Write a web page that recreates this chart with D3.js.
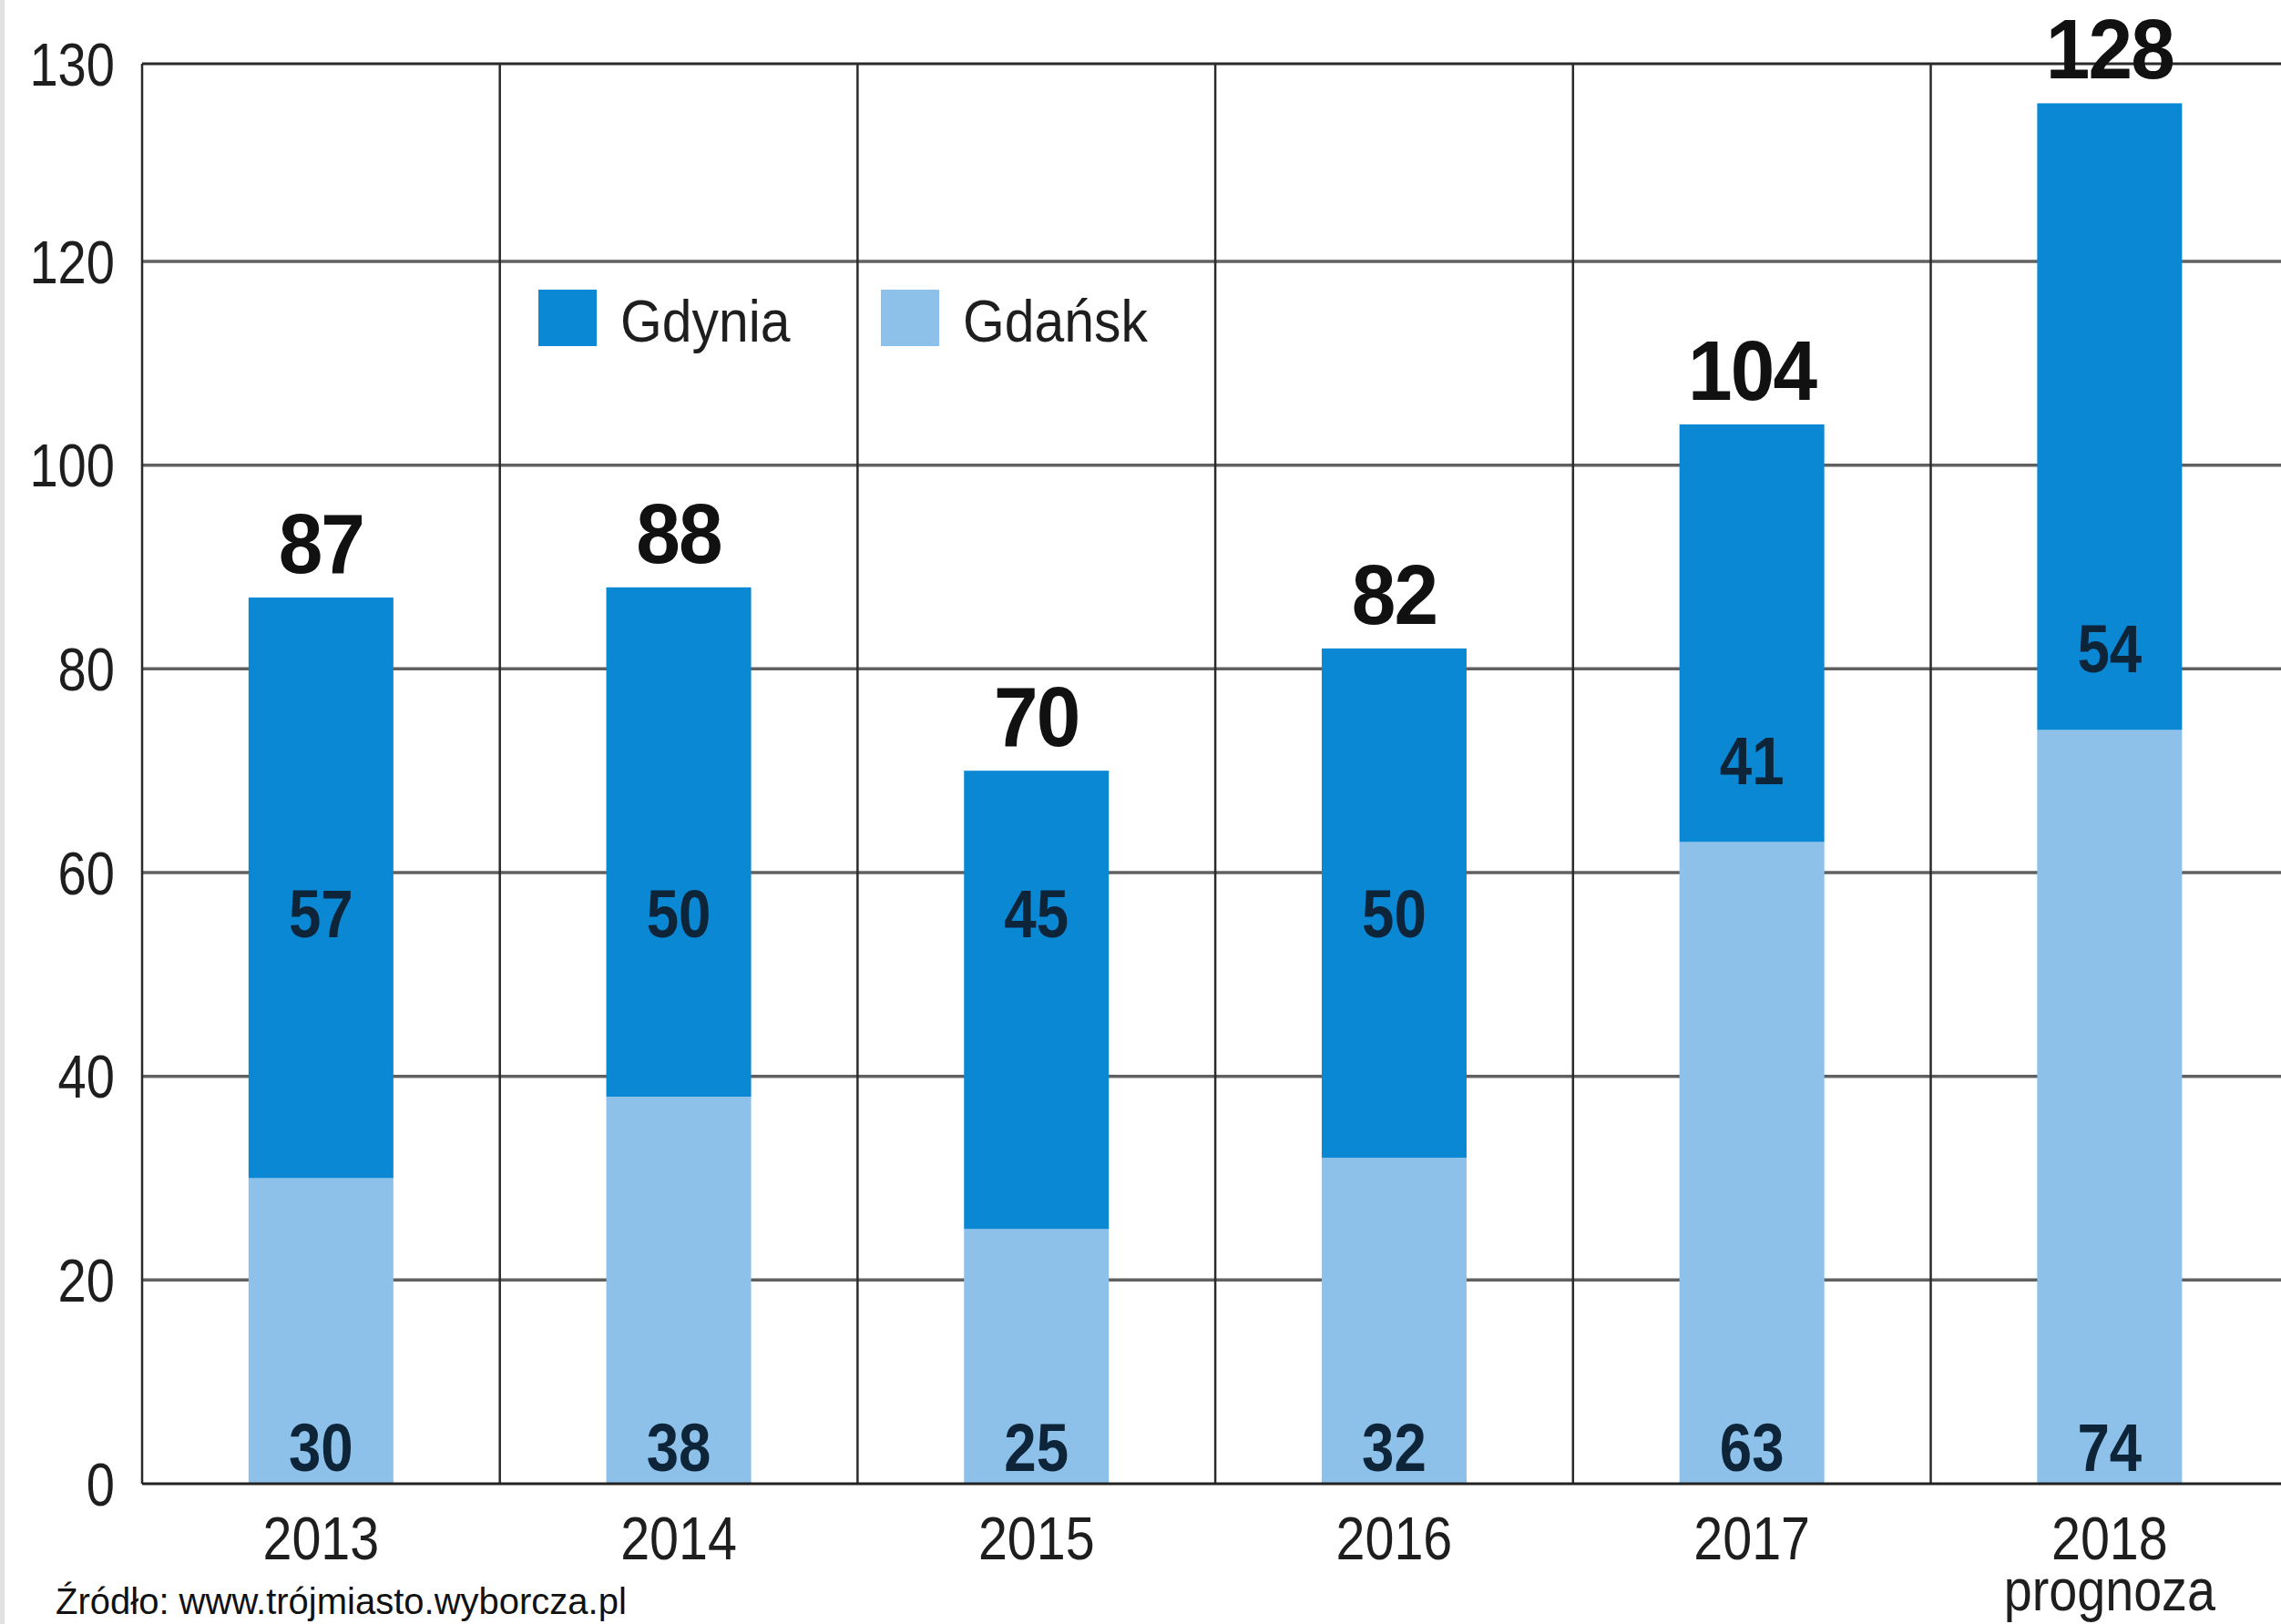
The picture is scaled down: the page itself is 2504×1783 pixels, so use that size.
<!DOCTYPE html>
<html>
<head>
<meta charset="utf-8">
<script src="https://cdnjs.cloudflare.com/ajax/libs/d3/7.8.5/d3.min.js"></script>
<style>
  body { margin:0; background:#fff; }
  svg { display:block; }
</style>
</head>
<body>
<script>
var years = ["2013","2014","2015","2016","2017","2018"];
var yearNotes = ["","","","","","prognoza"];
var gdynia = [57,50,45,50,41,54];
var gdansk = [30,38,25,32,63,74];
var totals = [87,88,70,82,104,128];
var yTicks = [0,20,40,60,80,100,120,130];
var seriesNames = ["Gdynia","Gdańsk"];
var source = "Źródło: www.trójmiasto.wyborcza.pl";

var width = 2504, height = 1783;
var margin = {left:156, top:70, bottom:154};
var colors = {Gdynia:"#0a88d4", "Gdańsk":"#8ec1e9"};
var sans = "'Liberation Sans',Arial,sans-serif";

var data = years.map(function(y,i){
    return {year:y, note:yearNotes[i], Gdynia:gdynia[i], "Gdańsk":gdansk[i], total:totals[i]};
});

// condensed look: squeeze text horizontally around its anchor
function squeeze(k, fx, fy){
    return function(d,i){ return "translate("+fx(d,i)+","+fy(d,i)+") scale("+k+",1)"; };
}

//SCALES
var xScale = d3.scaleBand()
    .domain(years)
    .range([margin.left, margin.left + 6*392.7])
    .padding(0);

// the printed axis squeezes 120-130 into a taller step, keep it that way
var yScale = d3.scaleLinear()
    .domain([0,120,130])
    .range([height-margin.bottom, 287, margin.top]);

var barW = 159;
var mid = function(d){return xScale(d.year)+xScale.bandwidth()/2;};

var svg = d3.select("body").append("svg")
    .attr("width",width)
    .attr("height",height);

svg.append("rect").attr("x",0).attr("y",0).attr("width",5).attr("height",height).attr("fill","#e2e2e2");

//GRID
svg.append("g").selectAll("line.h")
    .data(yTicks.filter(function(d){return d>0;}))
    .enter().append("line")
        .attr("class","h")
        .attr("x1",margin.left).attr("x2",width)
        .attr("y1",function(d){return yScale(d);})
        .attr("y2",function(d){return yScale(d);})
        .attr("stroke",function(d){return d===130 ? "#2a2a2a" : "#606060";})
        .attr("stroke-width",function(d){return d===130 ? 3 : 3.5;});

svg.append("g").selectAll("line.v")
    .data(years)
    .enter().append("line")
        .attr("class","v")
        .attr("x1",function(d){return xScale(d);})
        .attr("x2",function(d){return xScale(d);})
        .attr("y1",yScale(130)).attr("y2",yScale(0))
        .attr("stroke","#2a2a2a")
        .attr("stroke-width",2.5);

//Y AXIS LABELS
var yAxis = d3.axisLeft(yScale).tickValues(yTicks).tickSize(0).tickPadding(0);
var yG = svg.append("g")
    .attr("transform","translate("+margin.left+",0)")
    .call(yAxis);
yG.select(".domain").remove();
yG.selectAll("text")
    .attr("x",null)
    .attr("transform","translate(-30,2) scale(0.85,1)")
    .attr("font-family",sans)
    .attr("font-size",66)
    .attr("fill","#1e1e1e");

//STACKED BARS
var stack = d3.stack().keys(seriesNames.slice().reverse());
var stacked = stack(data);

svg.selectAll("g.layer")
    .data(stacked)
    .enter().append("g")
        .attr("class","layer")
        .attr("fill",function(d){return colors[d.key];})
    .selectAll("rect")
    .data(function(d){return d;})
    .enter().append("rect")
        .attr("x",function(d){return xScale(d.data.year) + xScale.bandwidth()/2 - barW/2;})
        .attr("width",barW)
        .attr("y",function(d){return yScale(d[1]);})
        .attr("height",function(d){return yScale(d[0]) - yScale(d[1]);});

//X AXIS
svg.append("line")
    .attr("x1",margin.left).attr("x2",width)
    .attr("y1",yScale(0)).attr("y2",yScale(0))
    .attr("stroke","#222").attr("stroke-width",3);

svg.append("g").selectAll("text.year")
    .data(data)
    .enter().append("text")
        .attr("class","year")
        .attr("transform",squeeze(0.87, mid, function(){return 1712;}))
        .attr("text-anchor","middle")
        .attr("font-family",sans)
        .attr("font-size",66)
        .attr("fill","#1e1e1e")
        .text(function(d){return d.year;});

svg.append("g").selectAll("text.note")
    .data(data.filter(function(d){return d.note;}))
    .enter().append("text")
        .attr("transform",squeeze(0.87, mid, function(){return 1768;}))
        .attr("text-anchor","middle")
        .attr("font-family",sans)
        .attr("font-size",64)
        .attr("fill","#1e1e1e")
        .text(function(d){return d.note;});

//VALUE LABELS
svg.append("g").selectAll("text.total")
    .data(data)
    .enter().append("text")
        .attr("transform",squeeze(0.95, mid, function(d){return yScale(d.total)-27;}))
        .attr("text-anchor","middle")
        .attr("font-family",sans)
        .attr("font-weight","bold")
        .attr("font-size",92)
        .attr("letter-spacing",-2)
        .attr("fill","#111")
        .text(function(d){return d.total;});

svg.append("g").selectAll("text.gdynia")
    .data(data)
    .enter().append("text")
        .attr("transform",squeeze(0.86, mid, function(d){return yScale(Math.max(56, d["Gdańsk"]+8)) + 26;}))
        .attr("text-anchor","middle")
        .attr("font-family",sans)
        .attr("font-weight","bold")
        .attr("font-size",74)
        .attr("fill","#0e2439")
        .text(function(d){return d.Gdynia;});

svg.append("g").selectAll("text.gdansk")
    .data(data)
    .enter().append("text")
        .attr("transform",squeeze(0.86, mid, function(){return yScale(0)-14;}))
        .attr("text-anchor","middle")
        .attr("font-family",sans)
        .attr("font-weight","bold")
        .attr("font-size",74)
        .attr("fill","#0e2439")
        .text(function(d){return d["Gdańsk"];});

//LEGEND
var legendX = [591, 967];
var legend = svg.append("g").selectAll("g.leg")
    .data(seriesNames)
    .enter().append("g")
        .attr("transform",function(d,i){return "translate("+legendX[i]+",318)";});
legend.append("rect")
    .attr("width",64).attr("height",62)
    .attr("fill",function(d){return colors[d];});
legend.append("text")
    .attr("transform","translate(90,57) scale(0.92,1)")
    .attr("font-family",sans)
    .attr("font-size",64)
    .attr("fill","#1e1e1e")
    .text(function(d){return d;});

//SOURCE
svg.append("text")
    .attr("x",61).attr("y",1772)
    .attr("font-family",sans)
    .attr("font-size",40)
    .attr("fill","#111")
    .text(source);
</script>
</body>
</html>
